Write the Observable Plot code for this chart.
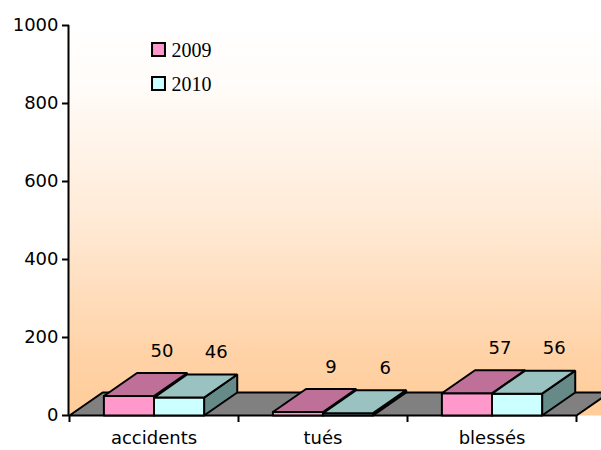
<!DOCTYPE html>
<html>
<head>
<meta charset="utf-8">
<script src="https://cdn.jsdelivr.net/npm/d3@7"></script>
<script src="https://cdn.jsdelivr.net/npm/@observablehq/plot@0.6"></script>
<style>
  html, body { margin: 0; padding: 0; background: white; }
</style>
</head>
<body>
<div id="chart"></div>
<script>
const categories = ["accidents", "tués", "blessés"];
const series = ["2009", "2010"];
const values2009 = [50, 9, 57];
const values2010 = [46, 6, 56];
const yTicks = [0, 200, 400, 600, 800, 1000];

const frontColors = ["#FF99CC", "#CCFFFF"];
const topColors = ["#BE7099", "#99C2C0"];
const sideColors = ["#8C4F6E", "#668A88"];

// layout (category units / value units)
const BAR_W = 0.2965;
const DX = 0.196;
const DY = 59;

const seriesValues = [values2009, values2010];
const faces = [];
const labels = [];
categories.forEach((c, i) => {
  series.forEach((s, k) => {
    const v = seriesValues[k][i];
    const x1 = i + 0.5 + (k - 1) * BAR_W;
    const x2 = x1 + BAR_W;
    const add = (id, color, pts) => pts.forEach(([x, y]) => faces.push({id, color, x, y}));
    add(`${c}-${s}-side`, sideColors[k], [[x2, 0], [x2 + DX, DY], [x2 + DX, v + DY], [x2, v], [x2, 0]]);
    add(`${c}-${s}-front`, frontColors[k], [[x1, 0], [x2, 0], [x2, v], [x1, v], [x1, 0]]);
    add(`${c}-${s}-top`, topColors[k], [[x1, v], [x2, v], [x2 + DX, v + DY], [x1 + DX, v + DY], [x1, v]]);
    labels.push({series: s, x: (x1 + x2) / 2 + DX, y: v + DY, text: String(v)});
  });
});

const n = categories.length;
const floor = [[0, 0], [n, 0], [n + DX, DY], [DX, DY], [0, 0]].map(([x, y]) => ({x, y}));

const chart = Plot.plot({
  width: 601,
  height: 450,
  marginLeft: 69,
  marginRight: 25,
  marginTop: 25,
  marginBottom: 35,
  style: {fontFamily: "DejaVu Sans", fontSize: "18px", background: "white", color: "black"},
  x: {type: "linear", domain: [0, n], axis: null},
  y: {domain: [0, 1000], axis: null},
  color: {type: "identity"},
  marks: [
    Plot.frame({fill: "url(#wallGrad)", stroke: "none", insetLeft: -1, insetRight: -25}),
    Plot.line(floor, {x: "x", y: "y", fill: "#808080", stroke: "black", strokeWidth: 2, strokeLinejoin: "miter"}),
    Plot.line(faces, {x: "x", y: "y", z: "id", fill: "color", stroke: "black", strokeWidth: 2, strokeLinejoin: "miter"}),
    ...series.map((s, k) => Plot.text(labels.filter(d => d.series === s), {x: "x", y: "y", text: "text", dy: -22, dx: k * 4, fontSize: 18, fill: "black"})),
    Plot.ruleX([0], {y1: 0, y2: 1000, stroke: "black", strokeWidth: 2, dx: -1}),
    Plot.axisY(yTicks, {tickSize: 7, tickPadding: 4, fontSize: 18, stroke: "black", strokeWidth: 2, fill: "black", label: null, tickFormat: d3.format("d")}),
    Plot.axisX(d3.range(n + 1), {tickSize: 7, tickFormat: () => "", stroke: "black", strokeWidth: 2, label: null}),
    Plot.text(categories, {x: (d, i) => i + 0.5, frameAnchor: "bottom", lineAnchor: "middle", dy: 23, fontSize: 18, fill: "black"}),
    ...series.map((s, k) => Plot.dot([s], {frameAnchor: "top-left", dx: 89, dy: 24 + 34 * k, symbol: "square", r: 7.3, fill: frontColors[k], stroke: "black", strokeWidth: 2})),
    ...series.map((s, k) => Plot.text([s], {frameAnchor: "top-left", lineAnchor: "middle", dx: 102, dy: 25 + 34 * k, text: d => d, textAnchor: "start", fontFamily: "Liberation Serif", fontSize: 20, fill: "black"}))
  ]
});

d3.select(chart).insert("defs", ":first-child").html(`
  <linearGradient id="wallGrad" x1="0" y1="0" x2="0" y2="1">
    <stop offset="0" stop-color="#FFFFFF"/>
    <stop offset="0.15" stop-color="#FFFCF9"/>
    <stop offset="0.5" stop-color="#FFEAD6"/>
    <stop offset="0.85" stop-color="#FFD2A6"/>
    <stop offset="1" stop-color="#FFCC99"/>
  </linearGradient>`);

document.getElementById("chart").appendChild(chart);
</script>
</body>
</html>
